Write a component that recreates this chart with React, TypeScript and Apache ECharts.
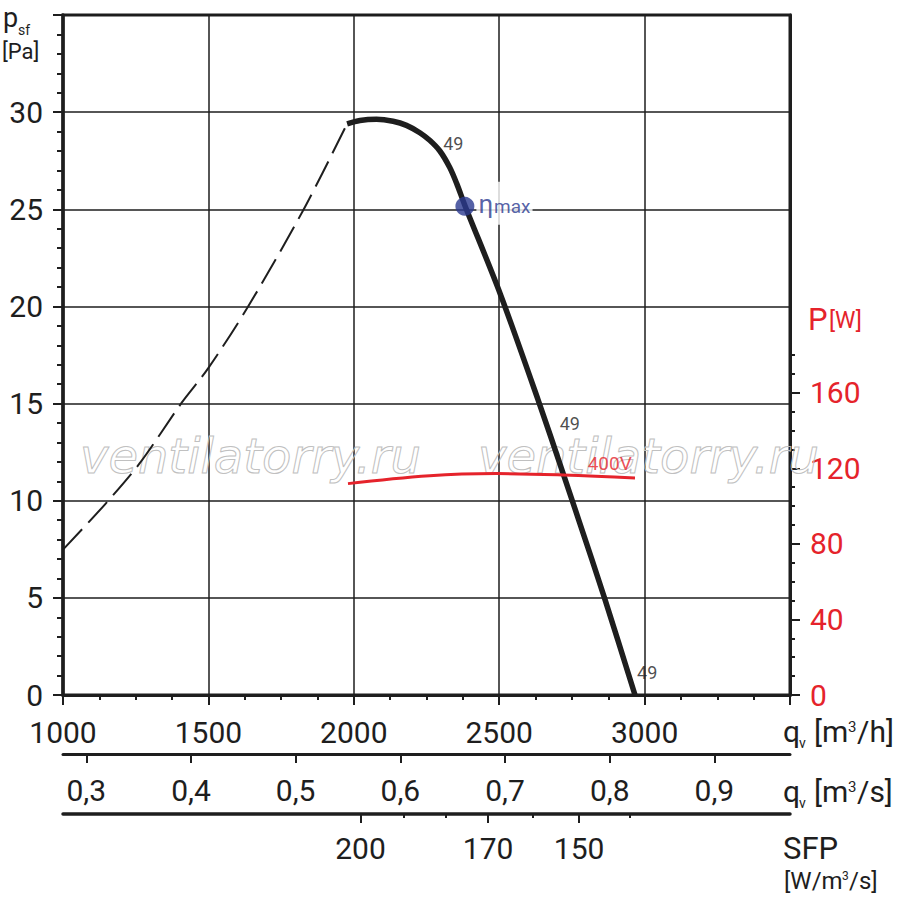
import React, { useEffect, useRef } from 'react';
import * as echarts from 'echarts';

const FONT = 'Roboto, "Noto Sans", sans-serif';
const INK = '#1e1e1e';
const RED = '#e5232b';
const BLUE = '#2b3990';

// axes
const pressureMin = 0;
const pressureMax = 35;
const pressureStep = 5;
const flowMin = 1000;
const flowMax = 3500;
const flowStep = 500;
const powerMax = 360;
const powerLabelTicks = [0, 40, 80, 120, 160];
const powerMinorTicks = [10, 20, 30, 50, 60, 70, 90, 100, 110, 130, 140, 150, 170, 180];
const flowSecTicks = [0.3, 0.4, 0.5, 0.6, 0.7, 0.8, 0.9];
const sfpLabels = [200, 170, 150];
const sfpLabelFlows = [2023, 2462, 2775];
const sfpMinorFlows = [2172, 2316, 2615, 2949];

// curves (flow m3/h, pressure Pa / power W)
const dashedFlow = [1000, 1143, 1264, 1407, 1499, 1636, 1826, 1977];
const dashedPressure = [7.48, 9.79, 11.93, 15.02, 16.81, 19.98, 24.95, 29.4];
const curveFlow = [1977, 2021, 2078, 2135, 2181, 2227, 2261, 2296, 2330, 2354, 2382, 2503, 2634, 2720, 2777, 2862, 2967];
const curvePressure = [29.4, 29.57, 29.63, 29.53, 29.32, 28.94, 28.55, 28.0, 27.15, 26.32, 25.2, 20.67, 15.18, 11.4, 8.85, 5.0, 0];
const powerFlow = [1980, 2261, 2491, 2720, 2967];
const powerWatts = [111.9, 116.1, 117.2, 116.5, 114.9];
const etaFlow = 2382;
const etaPressure = 25.15;
const rpmLabelFlow = [2342, 2743, 3009];
const rpmLabelPressure = [28.4, 14.0, 1.15];
const rpmLabelText = ['49', '49', '49'];
const voltageFlow = 2880;
const voltageWatts = 122.5;
const voltageText = '400V';

const zip = (a: number[], b: number[]) => a.map((v, i) => [v, b[i]]);

const tickLine = { color: INK, width: 2 };
const labelBase = { fontFamily: FONT, fontSize: 30, color: INK };

const txt = (text: string, x: number, y: number, size: number, color = INK, extra: any = {}) => ({
  type: 'text',
  x,
  y,
  z: 10,
  style: {
    text,
    fontSize: size,
    fontFamily: FONT,
    fill: color,
    align: 'left',
    textAlign: 'left',
    verticalAlign: 'middle',
    textVerticalAlign: 'middle',
    ...extra,
  },
});

const watermark = (x: number, y: number) => ({
  type: 'text',
  x,
  y,
  z: 1,
  silent: true,
  style: {
    text: 'ventilatorry.ru',
    fontSize: 48,
    fontFamily: '"DejaVu Sans", sans-serif',
    fontStyle: 'italic',
    fill: 'none',
    stroke: '#c0c0c0',
    lineWidth: 1,
    align: 'left',
    textAlign: 'left',
    verticalAlign: 'middle',
    textVerticalAlign: 'middle',
  },
});

const nearestLabel = (v: number) => {
  let best = 0;
  sfpLabelFlows.forEach((f, i) => {
    if (Math.abs(f - v) < Math.abs(sfpLabelFlows[best] - v)) best = i;
  });
  return Math.abs(sfpLabelFlows[best] - v) < 5 ? String(sfpLabels[best]) : '';
};

const option: any = {
  animation: false,
  backgroundColor: '#ffffff',
  textStyle: { fontFamily: FONT },
  grid: {
    left: 63,
    right: 110,
    top: 15,
    bottom: 213,
    show: true,
    borderColor: INK,
    borderWidth: 3,
    containLabel: false,
    outerBoundsMode: 'none',
  },
  xAxis: [
    {
      type: 'value',
      position: 'bottom',
      min: flowMin,
      max: flowMax,
      interval: flowStep,
      axisLine: { show: true, onZero: false, lineStyle: { color: INK, width: 3 } },
      axisTick: { show: true, length: 10, lineStyle: tickLine },
      minorTick: { show: true, splitNumber: 4, length: 5, lineStyle: tickLine },
      splitLine: { show: true, lineStyle: { color: INK, width: 1.5 } },
      axisLabel: { ...labelBase, margin: 22, formatter: (v: number) => (v >= flowMax ? '' : String(v)) },
    },
    {
      type: 'value',
      position: 'bottom',
      offset: 59,
      min: flowMin / 3600,
      max: flowMax / 3600,
      axisLine: { show: true, onZero: false, lineStyle: { color: INK, width: 3 } },
      axisTick: { show: true, length: 9, lineStyle: tickLine, customValues: flowSecTicks },
      axisLabel: {
        ...labelBase,
        margin: 21,
        customValues: flowSecTicks,
        formatter: (v: number) => v.toFixed(1).replace('.', ','),
      },
      splitLine: { show: false },
    },
    {
      type: 'value',
      position: 'bottom',
      offset: 119,
      min: flowMin,
      max: flowMax,
      axisLine: { show: true, onZero: false, lineStyle: { color: INK, width: 3.5 } },
      axisTick: { show: true, length: 9, lineStyle: tickLine, customValues: sfpLabelFlows },
      axisLabel: { ...labelBase, margin: 19, customValues: sfpLabelFlows, formatter: nearestLabel },
      splitLine: { show: false },
    },
    {
      type: 'value',
      position: 'bottom',
      offset: 119,
      min: flowMin,
      max: flowMax,
      axisLine: { show: false, onZero: false },
      axisTick: { show: true, length: 4, lineStyle: tickLine, customValues: sfpMinorFlows },
      axisLabel: { show: false },
      splitLine: { show: false },
    },
  ],
  yAxis: [
    {
      type: 'value',
      position: 'left',
      min: pressureMin,
      max: pressureMax,
      interval: pressureStep,
      axisLine: { show: true, onZero: false, lineStyle: { color: INK, width: 3.5 } },
      axisTick: { show: true, length: 10, lineStyle: tickLine },
      minorTick: { show: true, splitNumber: 5, length: 6, lineStyle: tickLine },
      splitLine: { show: true, lineStyle: { color: INK, width: 1.5 } },
      axisLabel: { ...labelBase, margin: 20, formatter: (v: number) => (v >= pressureMax ? '' : String(v)) },
    },
    {
      type: 'value',
      position: 'right',
      min: 0,
      max: powerMax,
      axisLine: { show: true, onZero: false, lineStyle: { color: INK, width: 3 } },
      axisTick: { show: true, length: 10, lineStyle: tickLine, customValues: powerLabelTicks },
      axisLabel: { ...labelBase, color: RED, margin: 20, customValues: powerLabelTicks },
      splitLine: { show: false },
    },
    {
      type: 'value',
      position: 'right',
      min: 0,
      max: powerMax,
      axisLine: { show: false, onZero: false },
      axisTick: { show: true, length: 5, lineStyle: tickLine, customValues: powerMinorTicks },
      axisLabel: { show: false },
      splitLine: { show: false },
    },
  ],
  series: [
    {
      type: 'line',
      xAxisIndex: 0,
      yAxisIndex: 0,
      data: zip(dashedFlow, dashedPressure),
      symbol: 'none',
      smooth: 0.3,
      smoothConstraint: false,
      lineStyle: { color: INK, width: 2, type: [28, 9] },
      z: 3,
    },
    {
      type: 'line',
      xAxisIndex: 0,
      yAxisIndex: 0,
      data: zip(curveFlow, curvePressure),
      symbol: 'none',
      smooth: 0.3,
      smoothConstraint: false,
      lineStyle: { color: INK, width: 5.5 },
      z: 4,
    },
    {
      type: 'line',
      xAxisIndex: 0,
      yAxisIndex: 1,
      data: zip(powerFlow, powerWatts),
      symbol: 'none',
      smooth: 0.4,
      smoothConstraint: false,
      lineStyle: { color: RED, width: 3 },
      z: 4,
    },
    {
      type: 'scatter',
      xAxisIndex: 0,
      yAxisIndex: 0,
      data: [[etaFlow, etaPressure]],
      symbolSize: 19,
      itemStyle: { color: BLUE },
      z: 6,
      label: {
        show: true,
        position: 'right',
        distance: 2,
        offset: [0, -3],
        formatter: '{e|η}{m|max}',
        backgroundColor: '#ffffff',
        padding: [9, 2, 8, 2],
        rich: {
          e: { fontSize: 26, color: BLUE, fontFamily: FONT },
          m: { fontSize: 19, color: BLUE, fontFamily: FONT, padding: [5, 0, 0, 1] },
        },
      },
    },
    {
      type: 'scatter',
      xAxisIndex: 0,
      yAxisIndex: 0,
      data: rpmLabelFlow.map((q, i) => ({ value: [q, rpmLabelPressure[i]], name: rpmLabelText[i] })),
      symbolSize: 1,
      itemStyle: { color: 'transparent' },
      z: 5,
      label: { show: true, position: 'inside', formatter: '{b}', fontSize: 18, color: INK, fontFamily: FONT },
    },
    {
      type: 'scatter',
      xAxisIndex: 0,
      yAxisIndex: 1,
      data: [{ value: [voltageFlow, voltageWatts], name: voltageText }],
      symbolSize: 1,
      itemStyle: { color: 'transparent' },
      z: 5,
      label: { show: true, position: 'inside', formatter: '{b}', fontSize: 19, color: RED, fontFamily: FONT },
    },
  ],
  graphic: [
    watermark(80, 456),
    watermark(478, 456),
    // left axis name
    txt('p', 3, 18, 27),
    txt('sf', 18, 30, 14),
    txt('[Pa]', 2, 51, 22),
    // right axis name
    txt('P', 808, 319, 31, RED),
    txt('[W]', 829, 320, 23, RED),
    // flow m3/h
    txt('q', 783, 731, 30),
    txt('v', 799, 743, 14),
    txt('[m', 814, 731, 30),
    txt('3', 848, 727, 15),
    txt('/h]', 857, 731, 30),
    // flow m3/s
    txt('q', 783, 791, 30),
    txt('v', 799, 803, 14),
    txt('[m', 814, 791, 30),
    txt('3', 848, 787, 15),
    txt('/s]', 857, 791, 30),
    // SFP
    txt('SFP', 783, 848, 31),
    txt('[W/m', 784, 881, 24),
    txt('3', 842, 876, 12),
    txt('/s]', 849, 881, 24),
  ],
};

export default function App() {
  const ref = useRef<HTMLDivElement>(null);
  useEffect(() => {
    if (!ref.current) return;
    const chart = echarts.init(ref.current, null, { renderer: 'svg' });
    chart.setOption(option);
    return () => chart.dispose();
  }, []);
  return (
    <div
      ref={ref}
      style={{ position: 'fixed', left: 0, top: 0, width: 900, height: 908, background: '#fff' }}
    />
  );
}
